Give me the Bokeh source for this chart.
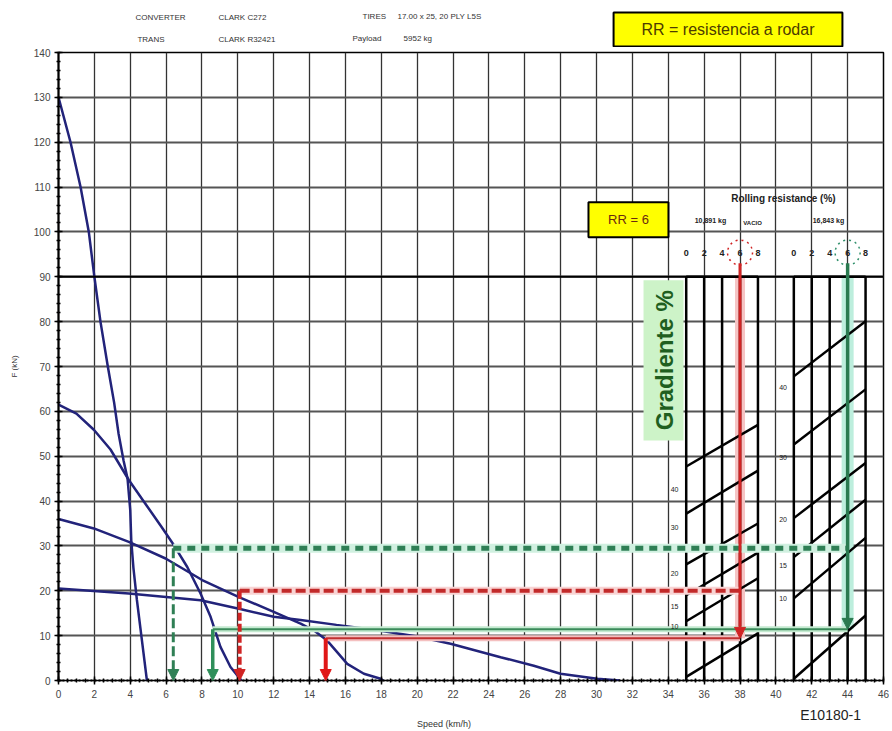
import numpy as np
from bokeh.plotting import figure
from bokeh.layouts import column
from bokeh.models import (Range1d, Label, SingleIntervalTicker, Arrow, NormalHead,
                          Span, ColumnDataSource)
from bokeh.embed import file_html
from bokeh.resources import INLINE
from bokeh.core.properties import value

# ---------------- data ----------------
# rimpull curves (speed km/h, F kN)
speed_g1 = [0, 0.67, 1.23, 1.69, 2.0, 2.34, 2.75, 3.1, 3.35, 3.63, 3.85, 4.0, 4.06, 4.18, 4.37, 4.65, 4.93]
force_g1 = [130, 120, 110, 100, 90, 80, 70, 62, 55, 49, 45, 38, 31, 25, 18, 9, 0]

speed_g2 = [0, 1.0, 1.97, 2.9, 3.92, 4.95, 5.7, 6.43, 7.18, 7.92, 8.48, 9.03, 9.59, 10.06, 10.2]
force_g2 = [61.5, 59.5, 55.9, 51.5, 44.7, 38.8, 34.5, 30.2, 25.3, 19.4, 14.2, 7.5, 3.0, 0.7, 0]

speed_g3 = [0, 1.97, 3.92, 5.97, 8.01, 10.06, 12.0, 13.5, 14.3, 14.98, 15.5, 16.1, 17.03, 17.96, 18.1]
force_g3 = [36, 33.9, 30.9, 27.2, 22.4, 18.6, 15.3, 12.7, 11.0, 8.9, 6.5, 3.7, 1.5, 0.4, 0]

speed_g4 = [0, 3.92, 7.92, 10.06, 12.0, 13.5, 15.5, 17.77, 20.0, 21.86, 24.65, 26.5, 27.99, 30.04, 31.3]
force_g4 = [20.5, 19.4, 17.9, 16.0, 14.2, 13.5, 12.4, 11.2, 9.8, 8.2, 5.2, 3.3, 1.5, 0.4, 0]

# gradeability nomograph
rr_ticks = ["0", "2", "4", "6", "8"]
p1_rr_x = [35, 36, 37, 38, 39]          # empty weight panel
p2_rr_x = [41, 42, 43, 44, 45]          # loaded panel
p1_left_F = [0.8, 13.2, 19.0, 25.9, 37.2, 47.7]
p1_right_F = [10.5, 22.8, 28.5, 35.0, 46.8, 57.0]
p2_left_F = [0.4, 18.3, 27.5, 36.2, 52.6, 67.8]
p2_right_F = [14.5, 31.8, 40.3, 48.5, 64.9, 80.1]
label_grade = ["40", "30", "20", "15", "10"]
p1_label_F = [42.5, 34.0, 23.8, 16.4, 12.0]
p2_label_F = [65.3, 49.7, 35.8, 25.7, 18.3]
panel_top_F = 90

# operating points (speed, F)
green_dash_pt = (6.4, 29.5)
green_solid_pt = (8.6, 11.4)
red_dash_pt = (10.1, 20.0)
red_solid_pt = (14.9, 9.4)
red_rr_x = 38
green_rr_x = 44

FONT = "Liberation Sans"
NAVY = "#22237a"
GREEN = "#2f7f55"
RED = "#d02424"
W = 889
LB, RB = 58, 6


def blank_fig(h, y0, y1):
    f = figure(width=W, height=h, x_range=Range1d(0, 46), y_range=Range1d(y0, y1),
               output_backend="svg", toolbar_location=None, x_axis_type=None, y_axis_type=None,
               min_border_left=LB, min_border_right=RB, min_border_top=0, min_border_bottom=0)
    f.outline_line_color = None
    f.xgrid.visible = False
    f.ygrid.visible = False
    return f


# ---------------- header ----------------
hdr = blank_fig(47, 0, 47)
hdr.quad(left=[30.95], right=[43.71], bottom=[1], top=[35], fill_color="#ffff00",
         line_color="black", line_width=2)
hdr.add_layout(Label(x=37.33, y=18, text="RR = resistencia a rodar", text_font=FONT,
                     text_font_size="16px", text_color="#4d3b00", text_align="center",
                     text_baseline="middle"))
for x, y, t in ((4.29, 30, "CONVERTER"), (8.92, 30, "CLARK C272"), (4.40, 8, "TRANS"),
                (8.92, 8, "CLARK R32421"), (16.95, 31, "TIRES"), (18.9, 31, "17.00 x 25, 20 PLY L5S"),
                (16.39, 9, "Payload"), (19.24, 9, "5952 kg")):
    hdr.add_layout(Label(x=x, y=y, text=t, text_font=FONT, text_font_size="8px",
                         text_color="#333333", text_align="left", text_baseline="middle"))

# ---------------- main chart ----------------
p = figure(width=W, height=655, x_range=Range1d(0, 46), y_range=Range1d(0, 140),
           output_backend="svg", toolbar_location=None,
           min_border_left=LB, min_border_right=RB, min_border_top=5, min_border_bottom=22)
p.outline_line_color = "black"
p.outline_line_width = 1.5
p.background_fill_color = "white"

p.xaxis.ticker = SingleIntervalTicker(interval=2, num_minor_ticks=4)
p.yaxis.ticker = SingleIntervalTicker(interval=10, num_minor_ticks=5)
p.xgrid.grid_line_color = "#333333"
p.xgrid.grid_line_width = 1.3
p.ygrid.grid_line_color = "#555555"
p.ygrid.grid_line_width = 1.8
for ax in (p.xaxis[0], p.yaxis[0]):
    ax.axis_line_color = "black"
    ax.axis_line_width = 2
    ax.major_tick_in = 4
    ax.major_tick_out = 4
    ax.minor_tick_in = 2
    ax.minor_tick_out = 2
    ax.major_tick_line_width = 1.5
    ax.minor_tick_line_width = 1.5
    ax.major_label_text_font = FONT
    ax.major_label_text_font_size = "10px"
    ax.major_label_text_color = "#444444"
    ax.axis_label_text_font = FONT
    ax.axis_label_text_font_size = "8px"
    ax.axis_label_text_font_style = "normal"
    ax.axis_label_text_color = "#333333"
p.xaxis.axis_line_dash = "2 2"
p.yaxis.axis_label = "F (kN)"
p.xaxis.major_label_standoff = 5
p.yaxis.major_label_standoff = 4
p.yaxis.axis_label_standoff = 12

p.add_layout(Span(location=panel_top_F, dimension="width", line_color="black", line_width=2))

# rimpull curves
for sx, fy in ((speed_g1, force_g1), (speed_g2, force_g2), (speed_g3, force_g3), (speed_g4, force_g4)):
    p.line(sx, fy, line_color=NAVY, line_width=2.5)

# highlight bands behind the RR verticals
p.segment(x0=[red_rr_x], y0=[red_solid_pt[1]], x1=[red_rr_x], y1=[panel_top_F], line_color="#f6c4c4", line_width=10)
p.segment(x0=[green_rr_x], y0=[green_solid_pt[1]], x1=[green_rr_x], y1=[panel_top_F], line_color="#bdeedd", line_width=12)

# nomograph panels
for xs, lf, rf in ((p1_rr_x, p1_left_F, p1_right_F), (p2_rr_x, p2_left_F, p2_right_F)):
    p.segment(x0=xs, y0=[0] * len(xs), x1=xs, y1=[panel_top_F] * len(xs), line_color="black", line_width=2.5)
    p.segment(x0=[xs[0]], y0=[panel_top_F], x1=[xs[-1]], y1=[panel_top_F], line_color="black", line_width=2.5)
    p.segment(x0=[xs[0]] * len(lf), y0=lf, x1=[xs[-1]] * len(rf), y1=rf, line_color="black", line_width=2.5)


def hline(x0, x1, y, color, width, dash="solid", halo=None):
    if halo:
        p.segment(x0=[x0], y0=[y], x1=[x1], y1=[y], line_color=halo, line_width=width + 4)
    p.segment(x0=[x0], y0=[y], x1=[x1], y1=[y], line_color=color, line_width=width, line_dash=dash)


hline(green_solid_pt[0], green_rr_x, green_solid_pt[1], "#3a8a5a", 2, halo="#c4ead0")
hline(red_solid_pt[0], red_rr_x, red_solid_pt[1], "#c03030", 2, halo="#f4c0c0")
hline(red_dash_pt[0], red_rr_x, red_dash_pt[1], "#c22a2a", 4, dash="10 4", halo="#f8d4d4")
hline(green_dash_pt[0], green_rr_x, green_dash_pt[1], GREEN, 5, dash="8 6", halo="#d0f0e0")


def varrow(x, y0, y1, color, width, dash="solid"):
    p.add_layout(Arrow(x_start=x, y_start=y0, x_end=x, y_end=y1, line_color=color, line_width=width,
                       line_dash=dash,
                       end=NormalHead(size=11, fill_color=color, line_color=color, line_width=1)))


varrow(green_dash_pt[0], green_dash_pt[1], 0, GREEN, 3, dash="10 4")
varrow(green_solid_pt[0], green_solid_pt[1], 0, "#2f8f5a", 3.5)
varrow(red_dash_pt[0], red_dash_pt[1], 0, RED, 4, dash="8 3")
varrow(red_solid_pt[0], red_solid_pt[1], 0, "#e01818", 4)
varrow(red_rr_x, 93, red_solid_pt[1], RED, 3)
varrow(green_rr_x, 93, green_solid_pt[1], "#2a7a50", 3.5)

# RR header numbers and circles
hsrc = ColumnDataSource(dict(x=p1_rr_x + p2_rr_x, y=[95.4] * 10, t=rr_ticks + rr_ticks))
p.text(x="x", y="y", text="t", source=hsrc, text_font=value(FONT), text_font_size="9px",
       text_font_style="bold", text_align="center", text_baseline="middle", text_color="#222222")
p.scatter([red_rr_x], [95.4], marker="circle", size=25, fill_alpha=0, line_color=RED,
          line_dash="dotted", line_width=1.5)
p.scatter([green_rr_x], [95.4], marker="circle", size=25, fill_alpha=0, line_color="#2f8f6a",
          line_dash="dotted", line_width=1.5)

# grade labels
gl = ColumnDataSource(dict(x=[34.35] * 5 + [40.4] * 5, y=p1_label_F + p2_label_F, t=label_grade + label_grade))
p.text(x="x", y="y", text="t", source=gl, text_font=value(FONT), text_font_size="7px",
       text_align="center", text_baseline="middle", text_color="#222222")

# boxes
p.quad(left=[29.55], right=[34.01], bottom=[98.8], top=[106.6], fill_color="#ffff00",
       line_color="black", line_width=2)
p.quad(left=[32.62], right=[34.85], bottom=[53.5], top=[89.2], fill_color="#cdf3c8", line_color=None)


def lab(f, x, y, text, size, **kw):
    opts = dict(text_font=FONT, text_font_size=size, text_align="center", text_baseline="middle",
                text_color="#222222")
    opts.update(kw)
    f.add_layout(Label(x=x, y=y, text=text, **opts))


lab(p, 40.42, 107.45, "Rolling resistance (%)", "10px", text_font_style="bold")
lab(p, 36.35, 102.5, "10,891 kg", "7px", text_font_style="bold")
lab(p, 38.7, 102.1, "VACIO", "6px", text_font_style="bold")
lab(p, 42.93, 102.5, "16,843 kg", "7px", text_font_style="bold")
lab(p, 31.78, 102.7, "RR = 6", "13px", text_color="#6b2a10")
lab(p, 33.78, 71.4, "Gradiente %", "24px", text_font_style="bold", text_color="#1f5f1f", angle=np.pi / 2)

# ---------------- footer ----------------
ftr = blank_fig(27, 0, 27)
lab(ftr, 21.5, 6, "Speed (km/h)", "9px", text_color="#333333")
lab(ftr, 43.05, 15, "E10180-1", "14px", text_color="#222222")

layout = column(hdr, p, ftr, spacing=0)
open("out.html", "w").write(file_html(layout, INLINE))
